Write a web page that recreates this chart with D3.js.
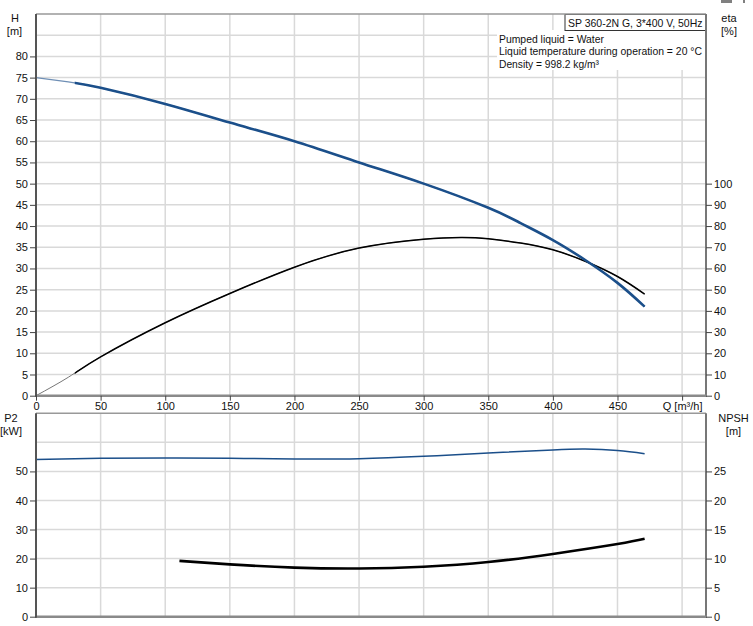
<!DOCTYPE html>
<html><head><meta charset="utf-8">
<script src="https://cdn.jsdelivr.net/npm/d3@7"></script>
<style>
html,body{margin:0;padding:0;background:#fff;}
text{font-family:"Liberation Sans",Arial,sans-serif;font-size:11px;fill:#111;}
</style></head>
<body><svg id="c" width="753" height="626"></svg>
<script>
// ---- data ----
const qTicks = [0,50,100,150,200,250,300,350,400,450,500];
const qTickLabels = ["0","50","100","150","200","250","300","350","400","450","Q [m³/h]"];
const hTicks = [0,5,10,15,20,25,30,35,40,45,50,55,60,65,70,75,80];
const etaTicks = [0,10,20,30,40,50,60,70,80,90,100];
const p2Ticks = [0,10,20,30,40,50];
const npshTicks = [0,5,10,15,20,25];

const qHead = [0,25,50,100,150,200,250,300,350,375,400,425,450,471];
const head  = [75,74.0,72.6,68.8,64.4,60.0,55.0,50.0,44.3,40.7,36.7,32.0,26.6,21.0];
const qEta  = [0,25,50,100,150,200,250,300,330,350,375,400,425,450,471];
const eta   = [0,8.7,18.3,34.4,48.2,60.6,69.6,73.8,74.6,74.0,72.0,68.8,63.4,56.2,47.9];
const qP2   = [0,50,100,150,200,250,300,350,400,425,450,471];
const p2    = [54.1,54.5,54.6,54.5,54.3,54.4,55.2,56.3,57.4,57.7,57.2,56.1];
const qNpsh = [111,150,200,250,300,350,400,450,471];
const npsh  = [9.6,9.0,8.45,8.3,8.6,9.4,10.8,12.5,13.4];

const title = "SP 360-2N G, 3*400 V, 50Hz";
const info = ["Pumped liquid = Water","Liquid temperature during operation = 20 °C","Density = 998.2 kg/m³"];

// ---- layout ----
const L=36, R=706, T1=14, B1=395.7, T2=413.3, B2=616.7;
const svg = d3.select("#c");
const x = d3.scaleLinear().domain([0,518.5]).range([L,R]);
const yH = d3.scaleLinear().domain([0,90]).range([B1,T1]);
const yEta = d3.scaleLinear().domain([0,180]).range([B1,T1]);
const yP = d3.scaleLinear().domain([0,70]).range([B2,T2]);
const yN = d3.scaleLinear().domain([0,35]).range([B2,T2]);

const grid = "#d9d9d9";
function gridlines(yS, vals, top, bot){
  const g = svg.append("g");
  g.selectAll(".h").data(vals).join("line")
   .attr("x1",L).attr("x2",R).attr("y1",d=>yS(d)).attr("y2",d=>yS(d))
   .attr("stroke",grid).attr("stroke-width",1.5);
  g.selectAll(".v").data(qTicks.filter(d=>d>0)).join("line")
   .attr("x1",d=>x(d)).attr("x2",d=>x(d)).attr("y1",top).attr("y2",bot)
   .attr("stroke",grid).attr("stroke-width",1.5);
}
gridlines(yH, d3.range(5,90,5), T1, B1);
gridlines(yP, d3.range(10,70,10), T2, B2);

// clip for operating range
svg.append("clipPath").attr("id","op").append("rect")
  .attr("x",x(30)).attr("y",0).attr("width",R-x(30)).attr("height",626);

const curve = d3.curveNatural;
function path(qs, vs, yS){
  return d3.line().x((d,i)=>x(qs[i])).y(d=>yS(d)).curve(curve)(vs);
}
// eta
svg.append("path").attr("d",path(qEta,eta,yEta)).attr("fill","none").attr("stroke","#777").attr("stroke-width",1);
svg.append("path").attr("d",path(qEta,eta,yEta)).attr("fill","none").attr("stroke","#000").attr("stroke-width",1.5).attr("clip-path","url(#op)");
// head
svg.append("path").attr("d",path(qHead,head,yH)).attr("fill","none").attr("stroke","#6f8fb5").attr("stroke-width",1.2);
svg.append("path").attr("d",path(qHead,head,yH)).attr("fill","none").attr("stroke","#1b4f8a").attr("stroke-width",2.6).attr("clip-path","url(#op)");
// P2
svg.append("path").attr("d",path(qP2,p2,yP)).attr("fill","none").attr("stroke","#1b4f8a").attr("stroke-width",1.5);
// NPSH
svg.append("path").attr("d",path(qNpsh,npsh,yN)).attr("fill","none").attr("stroke","#000").attr("stroke-width",2.6);

// info box
svg.append("rect").attr("x",497).attr("y",30).attr("width",R-497).attr("height",40).attr("fill","#fff");
const infoW = [105,203,100];
info.forEach((t,i)=>svg.append("text").attr("x",499).attr("y",43+i*12.3)
  .attr("textLength",infoW[i]).attr("lengthAdjust","spacingAndGlyphs").text(t));
svg.append("rect").attr("x",565).attr("y",14.5).attr("width",R-565-0.5).attr("height",16).attr("fill","#fff").attr("stroke","#333").attr("stroke-width",1);
svg.append("text").attr("x",568).attr("y",26.5).attr("textLength",134.5).attr("lengthAdjust","spacingAndGlyphs").text(title);

// frames
function frame(top,bot){
  svg.append("line").attr("x1",L).attr("x2",R).attr("y1",top).attr("y2",top).attr("stroke","#999").attr("stroke-width",1.5);
  svg.append("line").attr("x1",R).attr("x2",R).attr("y1",top).attr("y2",bot).attr("stroke","#777").attr("stroke-width",2);
  svg.append("line").attr("x1",L).attr("x2",R+1).attr("y1",bot).attr("y2",bot).attr("stroke","#8a8a8a").attr("stroke-width",2.5);
  svg.append("line").attr("x1",L).attr("x2",L).attr("y1",top).attr("y2",bot+1).attr("stroke","#555").attr("stroke-width",2);
}
frame(T1,B1);
frame(T2,B2);

// axes
function styleAxis(g){
  g.select(".domain").remove();
  g.selectAll(".tick line").attr("stroke","#444");
  g.selectAll(".tick text").attr("fill","#111").style("font-size","11px");
}
svg.append("g").attr("transform",`translate(${L},0)`).call(d3.axisLeft(yH).tickValues(hTicks).tickSize(6).tickPadding(2)).call(styleAxis);
svg.append("g").attr("transform",`translate(${R},0)`).call(d3.axisRight(yEta).tickValues(etaTicks).tickSize(6).tickPadding(2)).call(styleAxis);
svg.append("g").attr("transform",`translate(${L},0)`).call(d3.axisLeft(yP).tickValues(p2Ticks).tickSize(6).tickPadding(2)).call(styleAxis);
svg.append("g").attr("transform",`translate(${R},0)`).call(d3.axisRight(yN).tickValues(npshTicks).tickSize(6).tickPadding(2)).call(styleAxis);
svg.append("g").attr("transform",`translate(0,${B1})`).call(d3.axisBottom(x).tickValues(qTicks).tickSize(5).tickPadding(2).tickFormat((d,i)=>qTickLabels[i])).call(styleAxis);

// axis titles
function lab(t,cx,y){svg.append("text").attr("x",cx).attr("y",y).attr("text-anchor","middle").text(t);}
lab("H",15,22); lab("[m]",14.5,35);
lab("eta",729,22); lab("[%]",729,35);
lab("P2",11,422); lab("[kW]",11,434.5);
lab("NPSH",733.5,422); lab("[m]",733.5,434.5);

// clipped icon at top right corner
svg.append("rect").attr("x",721).attr("y",0).attr("width",11).attr("height",3).attr("fill","#808080");
svg.append("rect").attr("x",743).attr("y",0).attr("width",2).attr("height",3).attr("fill","#808080");
</script></body></html>
